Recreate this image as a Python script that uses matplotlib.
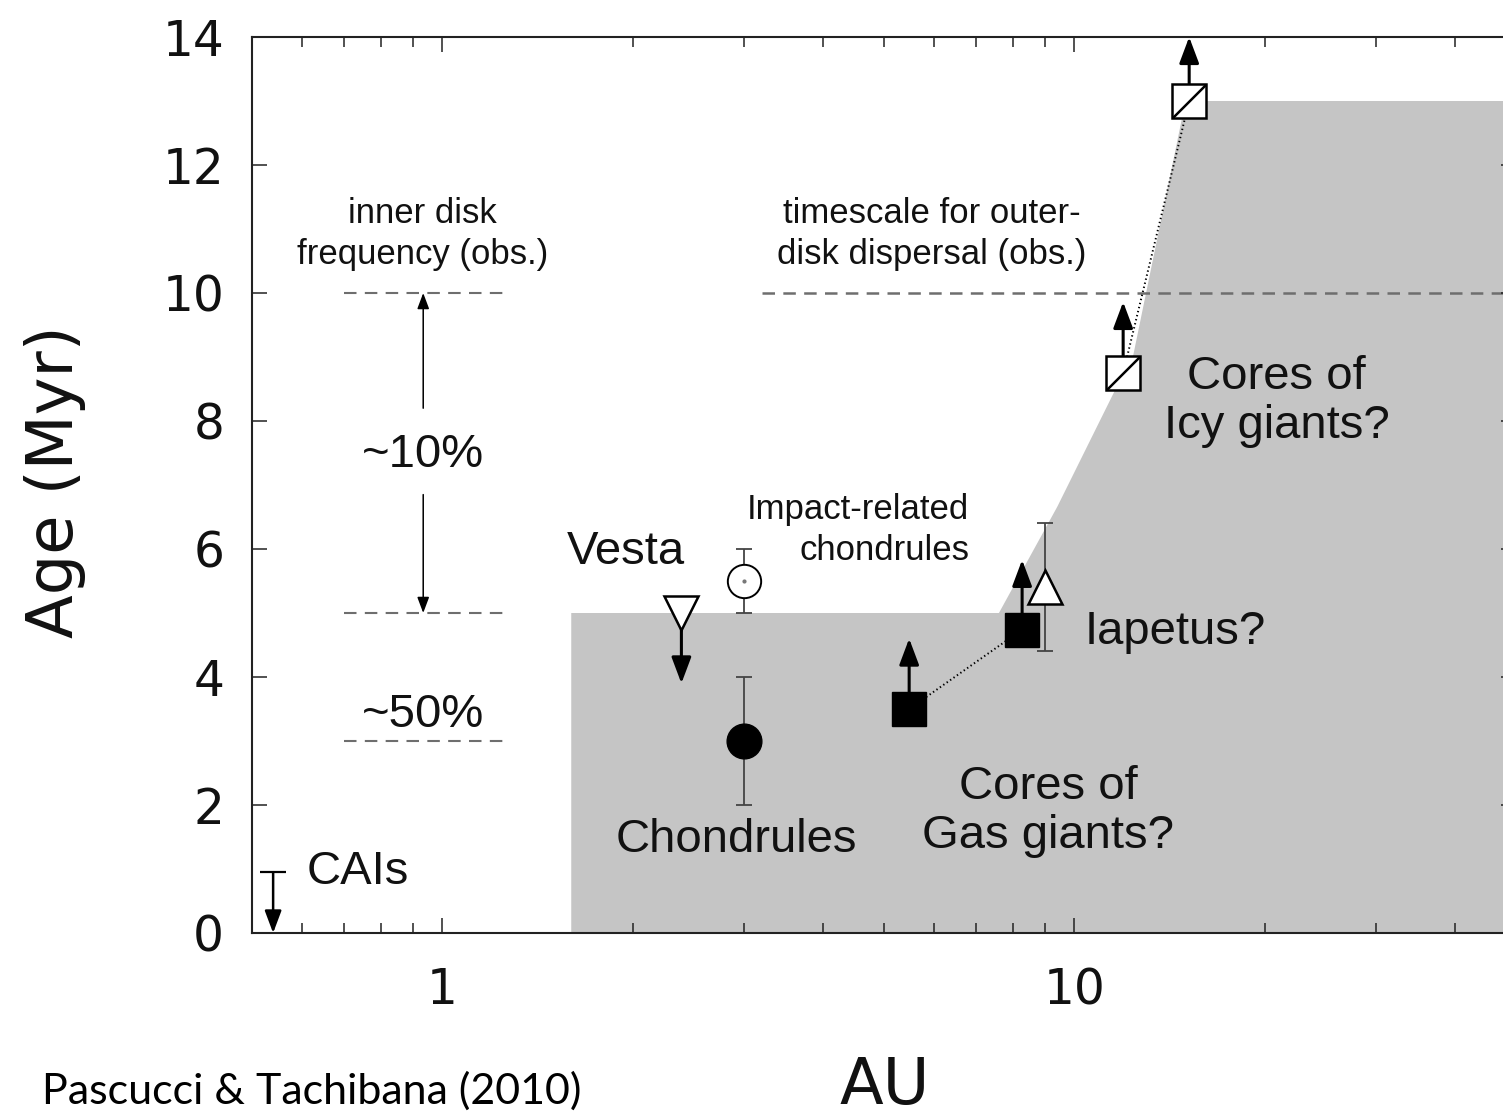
import matplotlib
matplotlib.use("Agg")
import matplotlib.pyplot as plt
from matplotlib.path import Path
from matplotlib.ticker import NullFormatter

# ================= DATA =================
# shaded region (AU, Myr)
GRAY_X = [1.6, 1.6, 7.6, 9.4, 11.6, 12.4, 15.0, 60, 60]
GRAY_Y = [0, 5, 5, 6.66, 8.48, 9.03, 13.0, 13.0, 0]

# observed disk timescales (dashed)
INNER_X = [0.70, 1.26]
INNER_LEVELS = [10, 5, 3]
OUTER_X = [3.2, 60]
OUTER_LEVEL = 10

# points with error bars
CHON_X, CHON_Y, CHON_ERR = 3.0, 3.0, 1.0
IMPACT_X, IMPACT_Y, IMPACT_ERR = 3.0, 5.5, 0.5
IAP_X, IAP_Y, IAP_ERR = 9.0, 5.4, 1.0

# limits (marker position -> arrow tip)
VESTA_X, VESTA_Y, VESTA_TIP = 2.39, 5.0, 3.9
GAS_X = [5.48, 8.27]
GAS_Y = [3.5, 4.74]
GAS_TIP = [4.6, 5.83]
ICY_X = [11.95, 15.2]
ICY_Y = [8.75, 13.0]
ICY_TIP = [9.86, 14.0]
CAI_X, CAI_Y, CAI_TIP = 0.54, 0.95, 0.0

# inner disk frequency arrow
FREQ_X = 0.933
FREQ_UP = (8.2, 10.0)
FREQ_DOWN = (6.85, 5.0)

# ================= FIGURE =================
plt.rcParams["font.family"] = "DejaVu Sans"
plt.rcParams["lines.scale_dashes"] = False

fig = plt.figure(figsize=(15.03, 11.19), dpi=100)
ax = fig.add_axes([252 / 1503, 186 / 1119, 1264 / 1503, 896 / 1119])
ax.set_xscale("log")
ax.set_xlim(0.5, 50)
ax.set_ylim(0, 14)

ax.fill(GRAY_X, GRAY_Y, color="#c5c5c5", lw=0, zorder=0)

for lvl in INNER_LEVELS:
    ax.plot(INNER_X, [lvl, lvl], color="#6e6e6e", lw=1.5, dashes=(9, 6), zorder=1)
ax.plot(OUTER_X, [OUTER_LEVEL, OUTER_LEVEL], color="#6e6e6e", lw=1.8, dashes=(9, 6), zorder=1)

# dotted links
ax.plot(GAS_X, GAS_Y, color="black", lw=1.4, ls=(0, (1, 2)), zorder=2)
ax.plot(ICY_X, ICY_Y, color="black", lw=1.4, ls=(0, (1, 2)), zorder=2)

# error bars
eb = dict(fmt="none", ecolor="#444444", elinewidth=1.3, capsize=6, capthick=1.3, zorder=3)
ax.errorbar([CHON_X], [CHON_Y], yerr=[CHON_ERR], **eb)
ax.errorbar([IMPACT_X], [IMPACT_Y], yerr=[IMPACT_ERR], **eb)
ax.errorbar([IAP_X], [IAP_Y], yerr=[IAP_ERR], **eb)


def arrow(x, y0, y1, lw=2.2, scale=20):
    ax.annotate("", xy=(x, y1), xytext=(x, y0), annotation_clip=False,
                arrowprops=dict(arrowstyle="-|>,head_length=0.8,head_width=0.3",
                                lw=lw, color="black", shrinkA=0, shrinkB=0,
                                mutation_scale=scale),
                zorder=4)


arrow(VESTA_X, VESTA_Y, VESTA_TIP)
for x, y, t in zip(GAS_X, GAS_Y, GAS_TIP):
    arrow(x, y, t)
for x, y, t in zip(ICY_X, ICY_Y, ICY_TIP):
    arrow(x, y, t)
arrow(CAI_X, CAI_Y, CAI_TIP, lw=1.8, scale=17)
ax.plot([CAI_X], [CAI_Y], marker="_", ms=19, mew=1.6, color="black", zorder=4)

arrow(FREQ_X, FREQ_UP[0], FREQ_UP[1], lw=1.1, scale=12)
arrow(FREQ_X, FREQ_DOWN[0], FREQ_DOWN[1], lw=1.1, scale=12)

# markers
ax.plot([CHON_X], [CHON_Y], "o", ms=25, color="black", zorder=5)
ax.plot([IMPACT_X], [IMPACT_Y], "o", ms=24, mfc="white", mec="black", mew=1.4, zorder=5)
ax.plot([IMPACT_X], [IMPACT_Y], "o", ms=2, color="#777777", zorder=6)
ax.plot([VESTA_X], [VESTA_Y], "v", ms=25, mfc="white", mec="black", mew=1.8, zorder=5)
ax.plot([IAP_X], [IAP_Y], "^", ms=25, mfc="white", mec="black", mew=1.8, zorder=5)
ax.plot(GAS_X, GAS_Y, "s", ms=25, color="black", zorder=5)
ax.plot(ICY_X, ICY_Y, "s", ms=24, mfc="white", mec="black", mew=1.8, zorder=5)
slash = Path([(-1, -1), (1, 1)], [Path.MOVETO, Path.LINETO])
ax.plot(ICY_X, ICY_Y, ls="none", marker=slash, ms=24, mec="black", mew=1.8, zorder=6)

# ================= TEXT =================
lab = dict(family="Liberation Sans", color="#111111", zorder=7)
ax.text(1.955, 5.95, "Vesta", fontsize=34, ha="center", va="center", **lab)
ax.text(6.82, 6.3, "Impact-related\nchondrules", fontsize=25, ha="right", va="center",
        multialignment="right", linespacing=1.3, **lab)
ax.text(2.92, 1.45, "Chondrules", fontsize=34, ha="center", va="center", **lab)
ax.text(9.1, 1.9, "Cores of\nGas giants?", fontsize=34, ha="center", va="center",
        linespacing=1.15, **lab)
ax.text(10.4, 4.7, "Iapetus?", fontsize=34, ha="left", va="center", **lab)
ax.text(20.9, 8.3, "Cores of\nIcy giants?", fontsize=34, ha="center", va="center",
        linespacing=1.15, **lab)
ax.text(0.61, 0.95, "CAIs", fontsize=34, ha="left", va="center", **lab)
ax.text(FREQ_X, 7.47, "~10%", fontsize=34, ha="center", va="center", **lab)
ax.text(FREQ_X, 3.4, "~50%", fontsize=34, ha="center", va="center", **lab)
ax.text(0.93, 10.92, "inner disk\nfrequency (obs.)", fontsize=25, ha="center", va="center",
        linespacing=1.3, **lab)
ax.text(5.95, 10.92, "timescale for outer-\ndisk dispersal (obs.)", fontsize=25,
        ha="center", va="center", linespacing=1.3, **lab)

# ================= AXES STYLE =================
ax.set_xticks([1, 10])
ax.set_xticklabels(["1", "10"])
ax.xaxis.set_minor_formatter(NullFormatter())
ax.set_yticks(range(0, 15, 2))
ax.tick_params(which="both", direction="in", top=True, right=True, width=1.1,
               colors="#222222", labelcolor="#111111", labelsize=35)
ax.tick_params(which="major", length=11)
ax.tick_params(which="minor", length=7)
ax.tick_params(axis="y", pad=20)
ax.tick_params(axis="x", pad=24)
for s in ax.spines.values():
    s.set_linewidth(1.5)
    s.set_color("#222222")

fig.text(55 / 1503, 1 - 482 / 1119, "Age (Myr)", fontsize=46, rotation=90,
         ha="center", va="center", color="#111111")
fig.text(885 / 1503, 1 - 1086 / 1119, "AU", fontsize=46, ha="center", va="center",
         color="#111111")
fig.text(42 / 1503, 1 - 1104 / 1119, "Pascucci & Tachibana (2010)", fontsize=31,
         family="Lato", ha="left", va="baseline", color="black")

fig.savefig("out.png", dpi=100)
